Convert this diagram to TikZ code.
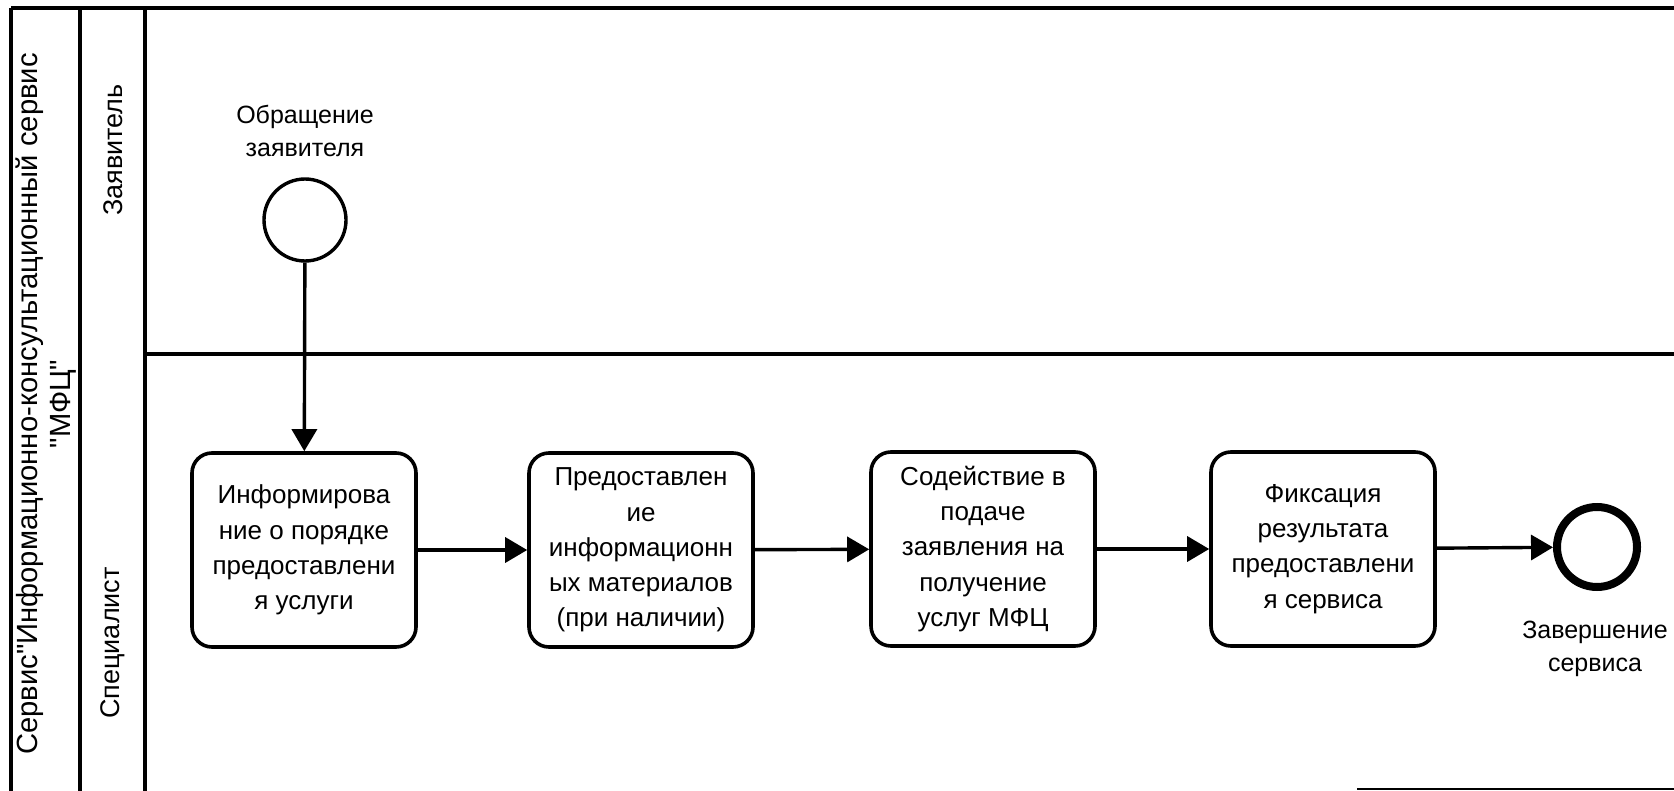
\documentclass[tikz,border=0pt]{standalone}
\usepackage{fontspec}
\setmainfont{Liberation Sans}
% same face without TeX ligature mapping, so that " stays a straight quote
\newfontfamily\plainsans[Ligatures=ResetAll]{Liberation Sans}
\usetikzlibrary{arrows.meta}
\begin{document}
\begin{tikzpicture}[x=0.5pt,y=-0.5pt,
  task/.style={draw, line width=1.8pt, rounded corners=10pt,
    minimum width=112pt, minimum height=97pt, inner sep=0pt,
    align=center, font=\fontsize{13}{17.6}\selectfont},
  startev/.style={circle, draw, line width=1.7pt, minimum size=41pt, inner sep=0pt},
  endev/.style={circle, draw, line width=4pt, minimum size=40pt, inner sep=0pt},
  evlabel/.style={align=center, font=\fontsize{12.5}{16.5}\selectfont, inner sep=0pt},
  flow/.style={line width=1.7pt, -{Triangle[length=11pt,width=12.5pt]}},
  laneline/.style={line width=1.8pt},
  lanetitle/.style={rotate=90, align=center, inner sep=0pt}]

\useasboundingbox (0,0) rectangle (1674,791);

% pool and lane frame
\draw[line width=2.2pt] (11,8) -- (1674,8);
\draw[laneline] (11,8) -- (11,791);
\draw[laneline] (80,8) -- (80,791);
\draw[laneline] (145,8) -- (145,791);
\draw[line width=2pt] (145,354) -- (1674,354);
\draw[line width=1.2pt] (1357,789) -- (1674,789);

% pool and lane titles
\node[lanetitle, font=\plainsans\fontsize{14.6}{16.5}\selectfont] (pool) at (46,404)
  {Сервис"Информационно-консультационный сервис\\"МФЦ"};
\node[lanetitle, font=\fontsize{13.5}{16}\selectfont] (laneA) at (113,150) {Заявитель};
\node[lanetitle, font=\fontsize{13.5}{16}\selectfont] (laneB) at (113,643) {Специалист};

% events
\node[startev] (start) at (305,220) {};
\node[evlabel] (startlbl) at (305,131) {Обращение\\заявителя};
\node[endev] (finish) at (1597,547) {};
\node[evlabel] (finishlbl) at (1595,649) {Завершение\\сервиса};

% tasks
\node[task] (t1) at (304,550) {Информирова\\ние о порядке\\предоставлени\\я услуги};
\node[task] (t2) at (641,550) {Предоставлен\\ие\\информационн\\ых материалов\\(при наличии)};
\node[task] (t3) at (983,549) {Содействие в\\подаче\\заявления на\\получение\\услуг МФЦ};
\node[task] (t4) at (1323,549) {Фиксация\\результата\\предоставлени\\я сервиса};

% sequence flows
\draw[flow] (start) -- (t1);
\draw[flow] (t1) -- (t2);
\draw[flow] (t2) -- (t3);
\draw[flow] (t3) -- (t4);
\draw[flow] (t4) -- (finish);
\end{tikzpicture}
\end{document}
